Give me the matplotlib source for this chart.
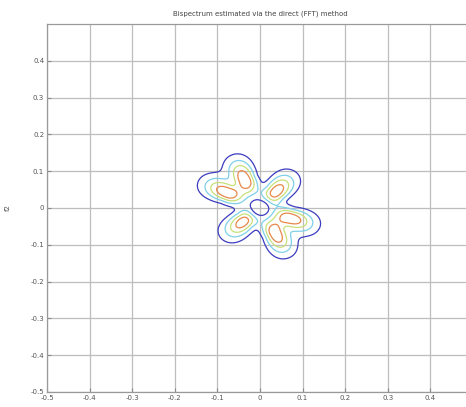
"""
Bispectrum contour plot (direct FFT estimate), six-lobe pattern
"""
import numpy as np
import matplotlib
matplotlib.use('Agg')
import matplotlib.pyplot as plt

# lobe peaks (f1, f2) and relative heights
lobe_f1 = [-0.035, -0.077, 0.035, -0.035, 0.070, 0.035]
lobe_f2 = [0.076, 0.041, 0.041, -0.033, -0.027, -0.068]
lobe_amp = [1.0, 1.0, 1.0, 1.0, 1.0, 1.0]
# lobe spread: towards the origin, away from it, across (growing outwards)
width_in = 0.030
width_out = 0.042
width_across = 0.018
across_growth = 0.13
hole_width = 0.022

ticks = [-0.5, -0.4, -0.3, -0.2, -0.1, 0, 0.1, 0.2, 0.3, 0.4]
tick_labels = ['-0.5', '-0.4', '-0.3', '-0.2', '-0.1', '0', '0.1', '0.2', '0.3', '0.4']
level_colors = ['#3c3cc0', '#7fd0e8', '#c8e07a', '#e8884a']

# build the magnitude surface from the lobes
waxis = np.linspace(-0.5, 0.5, 601)
F1, F2 = np.meshgrid(waxis, waxis)
bspec = np.zeros_like(F1)
for a, b, amp in zip(lobe_f1, lobe_f2, lobe_amp):
    r = np.hypot(a, b)
    ur, vr = a / r, b / r
    dr = (F1 - a) * ur + (F2 - b) * vr
    dt = -(F1 - a) * vr + (F2 - b) * ur
    sr = np.where(dr > 0, width_out, width_in)
    st = width_across + across_growth * np.clip(dr, 0, None)
    bspec += amp * np.exp(-0.5 * ((dr / sr) ** 2 + (dt / st) ** 2))
bspec *= 1 - np.exp(-0.5 * (F1 ** 2 + F2 ** 2) / hole_width ** 2)

zmin, zmax = bspec.min(), bspec.max()
levels = zmin + (zmax - zmin) * np.arange(1, 5) / 5.0

fig = plt.figure(figsize=(4.66, 4.07), dpi=100)
ax = fig.add_axes([47 / 466, 15 / 407, 426 / 466, 368 / 407])
ax.contour(waxis, waxis, bspec, levels=levels, colors=level_colors, linewidths=0.9)

ax.set_xlim(-0.5, 0.5)
ax.set_ylim(-0.5, 0.5)
ax.set_xticks(ticks)
ax.set_xticklabels(tick_labels)
ax.set_yticks(ticks)
ax.set_yticklabels(tick_labels)
ax.tick_params(direction='in', length=3, labelsize=5, colors='#888888',
               labelcolor='#555555', pad=2)
ax.grid(True, color='#bdbdbd', linewidth=0.9)
ax.set_axisbelow(True)
for s in ax.spines.values():
    s.set_color('#999999')
    s.set_linewidth(0.9)

ax.set_title('Bispectrum estimated via the direct (FFT) method', fontsize=5,
             color='#444444', pad=6)
ax.set_ylabel('f2', fontsize=5, color='#555555', labelpad=14)

fig.savefig('out.png', dpi=100)
